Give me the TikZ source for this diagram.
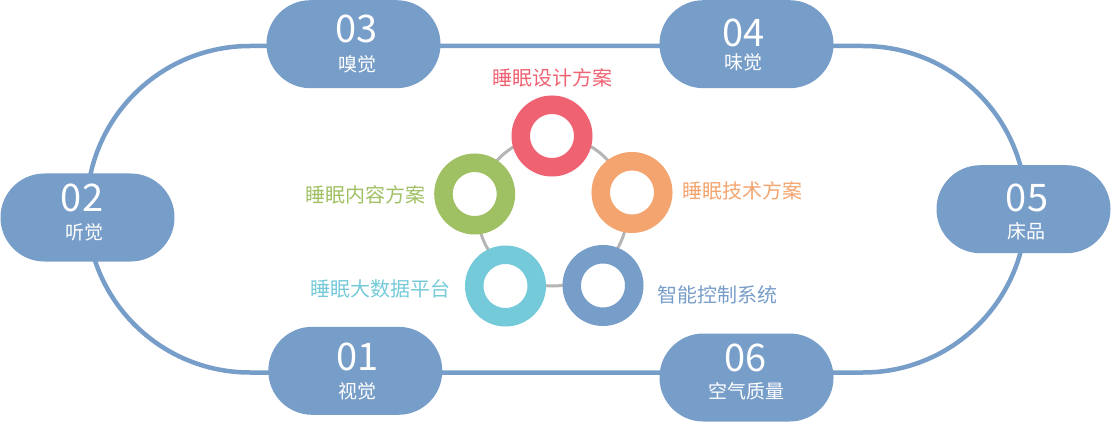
\documentclass[tikz,border=0pt]{standalone}
\usepackage{fontspec}
\newfontfamily\cjk{Noto Sans CJK SC}
\usepackage{tikz}
\usetikzlibrary{calc, positioning}

\definecolor{pillblue}{HTML}{779DC9}
\definecolor{ringred}{HTML}{EF6272}
\definecolor{ringorange}{HTML}{F4A46E}
\definecolor{ringgreen}{HTML}{A0C064}
\definecolor{ringcyan}{HTML}{74CAD9}
\definecolor{ringblue}{HTML}{779DC9}
\definecolor{linkgray}{HTML}{B5B5B5}

\begin{document}
\begin{tikzpicture}[x=1pt, y=-1pt,
    track/.style={draw=pillblue, line width=4.5pt},
    pill/.style={fill=pillblue, rounded corners=43.9pt, minimum width=174pt, minimum height=88pt, inner sep=0pt},
    num/.style={text=white, font=\cjk\fontsize{38}{38}\selectfont, inner sep=0pt},
    sense/.style={text=white, font=\cjk\fontsize{19}{19}\selectfont, inner sep=0pt},
    ring/.style={circle, draw=#1, line width=18.5pt, fill=white, minimum size=62.5pt, inner sep=0pt},
    plan/.style={text=#1, font=\cjk\fontsize{20}{20}\selectfont, inner sep=0pt}]
    \useasboundingbox (0,0) rectangle (1111,422);

    % Track
    \coordinate (tl) at (250,46);
    \coordinate (tr) at (863,46);
    \coordinate (bl) at (250,372.5);
    \draw [track] (tl) -- (tr) arc[start angle=90, end angle=-90, radius=163.25pt]
        -- (bl) arc[start angle=-90, end angle=-270, radius=163.25pt] -- cycle;

    % Pills
    \node [pill] (p01) at (355.3,370.8) {};
    \node [pill] (p02) at (87.5,217.5) {};
    \node [pill] (p03) at (353.5,44.2) {};
    \node [pill] (p04) at (746.5,44.2) {};
    \node [pill] (p05) at (1023.5,209.2) {};
    \node [pill] (p06) at (746.5,377.5) {};

    \node [num] (n01) at (357.5,356.7) {01};
    \node [sense] (t01) at (357.5,391.7) {视觉};
    \node [num] (n02) at (82,198.3) {02};
    \node [sense] (t02) at (84,232.8) {听觉};
    \node [num] (n03) at (356.7,29.2) {03};
    \node [sense] (t03) at (357.5,64.5) {嗅觉};
    \node [num] (n04) at (743.3,32.5) {04};
    \node [sense] (t04) at (743,62.8) {味觉};
    \node [num] (n05) at (1027,198) {05};
    \node [sense] (t05) at (1026,231) {床品};
    \node [num] (n06) at (745.5,357.5) {06};
    \node [sense] (t06) at (746.7,391.7) {空气质量};

    % Rings
    \draw [linkgray, line width=3pt] (552.5,211) circle[radius=75pt];

    \node [ring=ringred] (des) at (552,136) {};
    \node [ring=ringorange] (tec) at (632,192.5) {};
    \node [ring=ringblue] (ctl) at (603,285.5) {};
    \node [ring=ringcyan] (dat) at (505.5,286) {};
    \node [ring=ringgreen] (con) at (474.7,194) {};

    \node [plan=ringred, above=8pt of des] (desl) {睡眠设计方案};
    \node [plan=ringorange, right=10pt of tec, yshift=1.8pt] (tecl) {睡眠技术方案};
    \node [plan=ringblue, right=14pt of ctl, yshift=-9.5pt] (ctll) {智能控制系统};
    \node [plan=ringcyan, left=14pt of dat, yshift=-3pt] (datl) {睡眠大数据平台};
    \node [plan=ringgreen, left=9pt of con, yshift=-1pt] (conl) {睡眠内容方案};

\end{tikzpicture}
\end{document}
